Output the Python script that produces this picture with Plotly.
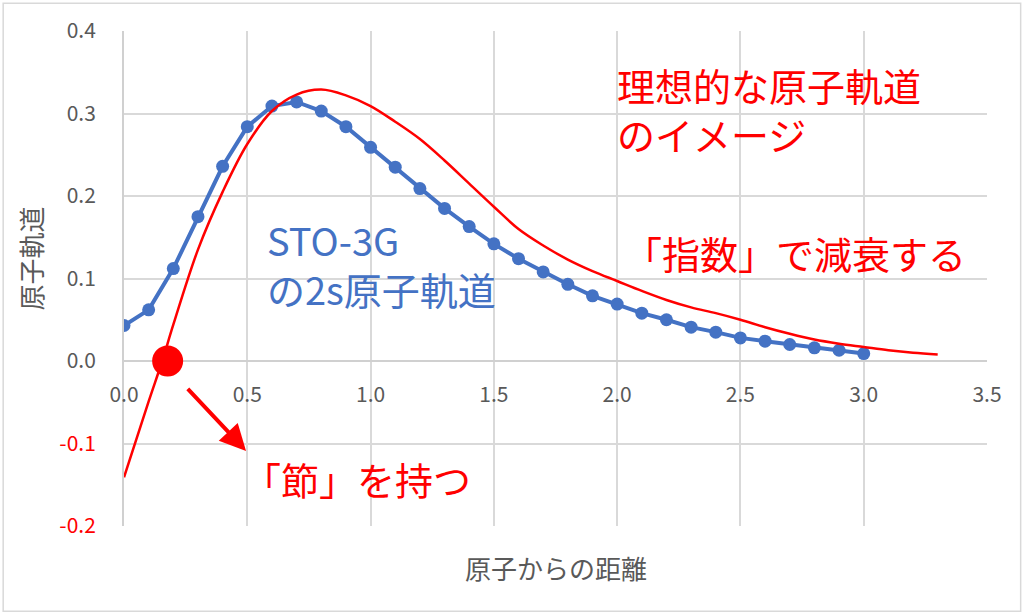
import plotly.graph_objects as go

# STO-3G 2s orbital (blue markers)
sto_x = [0.0, 0.1, 0.2, 0.3, 0.4, 0.5, 0.6, 0.7, 0.8, 0.9, 1.0, 1.1, 1.2, 1.3, 1.4, 1.5,
         1.6, 1.7, 1.8, 1.9, 2.0, 2.1, 2.2, 2.3, 2.4, 2.5, 2.6, 2.7, 2.8, 2.9, 3.0]
sto_y = [0.043, 0.062, 0.112, 0.175, 0.236, 0.284, 0.309, 0.314, 0.303, 0.284, 0.259,
         0.235, 0.209, 0.185, 0.163, 0.142, 0.124, 0.108, 0.093, 0.079, 0.069, 0.058,
         0.050, 0.041, 0.035, 0.028, 0.024, 0.020, 0.016, 0.013, 0.009]

# idealised orbital (red line)
ideal_x = [0.0, 0.1, 0.155, 0.2, 0.3, 0.4, 0.5, 0.6, 0.7, 0.8, 0.9, 1.0, 1.1, 1.2, 1.3,
           1.4, 1.5, 1.6, 1.7, 1.8, 1.9, 2.0, 2.1, 2.2, 2.3, 2.4, 2.5, 2.6, 2.7, 2.8,
           2.9, 3.0, 3.1, 3.2, 3.3]
ideal_y = [-0.141, -0.049, 0.0, 0.044, 0.135, 0.205, 0.263, 0.303, 0.323, 0.329, 0.322,
           0.309, 0.290, 0.269, 0.243, 0.215, 0.187, 0.160, 0.140, 0.123, 0.109, 0.097,
           0.085, 0.074, 0.065, 0.058, 0.050, 0.041, 0.033, 0.026, 0.021, 0.017, 0.013,
           0.010, 0.008]

# node marker
node_x = [0.177]
node_y = [0.0]

x_ticks = [0.0, 0.5, 1.0, 1.5, 2.0, 2.5, 3.0, 3.5]
y_ticks = [-0.2, -0.1, 0.0, 0.1, 0.2, 0.3, 0.4]

BLUE = "#4472C4"
RED = "#FF0000"
GRAY = "#595959"
FONT = "Noto Sans CJK JP"

y_ticktext = [
    f"<span style='color:{RED}'>{v:.1f}</span>" if v < 0 else f"{v:.1f}" for v in y_ticks
]

fig = go.Figure()

fig.add_trace(go.Scatter(
    x=sto_x, y=sto_y, mode="lines+markers",
    line=dict(color=BLUE, width=4),
    marker=dict(color=BLUE, size=13),
    showlegend=False, hoverinfo="skip",
))
fig.add_trace(go.Scatter(
    x=ideal_x, y=ideal_y, mode="lines",
    line=dict(color=RED, width=2.5, shape="spline"),
    showlegend=False, hoverinfo="skip",
))
fig.add_trace(go.Scatter(
    x=node_x, y=node_y, mode="markers",
    marker=dict(color=RED, size=31),
    showlegend=False, hoverinfo="skip",
))

# text labels inside the plot
labels = [
    ("理想的な原子軌道<br>のイメージ", 1.99, 0.305, RED),
    ("STO-3G<br>の2s原子軌道", 0.573, 0.117, BLUE),
    ("「指数」で減衰する", 2.021, 0.132, RED),
    ("「節」を持つ", 0.476, -0.143, RED),
]
for text, x, y, color in labels:
    fig.add_annotation(
        x=x, y=y, xref="x", yref="y", text=text, showarrow=False,
        xanchor="left", yanchor="middle", align="left",
        font=dict(family=FONT, size=38, color=color),
    )

# arrow from the node
fig.add_annotation(
    x=0.495, y=-0.109, ax=0.253, ay=-0.032, xref="x", yref="y", axref="x", ayref="y",
    text="", showarrow=True, arrowhead=2, arrowsize=1.3, arrowwidth=4, arrowcolor=RED,
)

# axis titles
fig.add_annotation(
    x=0.5, y=-0.084, xref="paper", yref="paper", text="原子からの距離", showarrow=False,
    xanchor="center", yanchor="middle", font=dict(family=FONT, size=26, color=GRAY),
)
fig.add_annotation(
    x=-0.108, y=0.54, xref="paper", yref="paper", text="原子軌道", showarrow=False,
    textangle=-90, xanchor="center", yanchor="middle",
    font=dict(family=FONT, size=26, color=GRAY),
)

# outer frame
fig.add_shape(
    type="rect", xref="paper", yref="paper",
    x0=-0.140, x1=1.039, y0=-0.172, y1=1.056,
    line=dict(color="#D9D9D9", width=1.5), fillcolor="rgba(0,0,0,0)",
)

fig.update_layout(
    width=1024, height=616,
    margin=dict(l=124, r=37, t=31, b=90),
    paper_bgcolor="white", plot_bgcolor="white",
    font=dict(family=FONT, color=GRAY),
    xaxis=dict(
        range=[0, 3.5], tickvals=x_ticks, ticktext=[f"{v:.1f}" for v in x_ticks],
        anchor="free", position=0.2 / 0.6,
        showgrid=True, gridcolor="#D9D9D9", gridwidth=2,
        showline=True, linecolor="#D0D0D0", linewidth=2,
        zeroline=False, ticks="", ticklabelstandoff=15, layer="below traces",
        tickfont=dict(size=21, color=GRAY),
    ),
    yaxis=dict(
        range=[-0.2, 0.4], tickvals=y_ticks, ticktext=y_ticktext,
        showgrid=True, gridcolor="#D9D9D9", gridwidth=2,
        showline=True, linecolor="#D0D0D0", linewidth=2,
        zeroline=False, ticks="", ticklabelstandoff=22, layer="below traces",
        tickfont=dict(size=21, color=GRAY),
    ),
)

fig.write_html(
    "out.html",
    config={"displayModeBar": False},
    post_script="document.body.style.margin = '0';",
)
